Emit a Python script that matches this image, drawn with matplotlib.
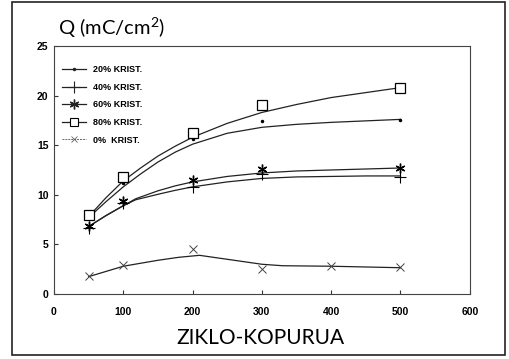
import matplotlib
matplotlib.use("Agg")
import matplotlib.pyplot as plt
from matplotlib.lines import Line2D
from matplotlib.patches import Rectangle

plt.rcParams["mathtext.fontset"] = "custom"
plt.rcParams["mathtext.rm"] = "Lato"

# measured points
cycles = [50, 100, 200, 300, 500]
q20 = [7.8, 11.2, 15.6, 17.4, 17.5]
q40 = [6.7, 9.2, 10.8, 12.1, 11.8]
q60 = [6.9, 9.4, 11.5, 12.6, 12.7]
q80 = [8.0, 11.8, 16.2, 19.0, 20.8]
cycles0 = [50, 100, 200, 300, 400, 500]
q0 = [1.8, 2.9, 4.5, 2.5, 2.8, 2.7]

# fitted curves as drawn on the figure
fit_x = [50, 75, 100, 125, 150, 175, 200, 250, 300, 350, 400, 450, 500]
fit20 = [7.7, 9.3, 10.8, 12.1, 13.3, 14.3, 15.1, 16.2, 16.8, 17.1, 17.3, 17.45, 17.6]
fit80 = [7.8, 9.7, 11.4, 12.7, 13.9, 14.9, 15.8, 17.2, 18.3, 19.1, 19.8, 20.3, 20.8]
fit_x2 = [50, 75, 100, 118, 150, 175, 200, 250, 300, 350, 400, 450, 500]
fit40 = [6.8, 7.9, 8.9, 9.5, 10.05, 10.45, 10.8, 11.3, 11.65, 11.8, 11.85, 11.9, 11.9]
fit60 = [6.8, 7.9, 8.9, 9.6, 10.4, 10.9, 11.3, 11.85, 12.2, 12.4, 12.5, 12.6, 12.7]
fit_x0 = [50, 100, 150, 180, 210, 250, 300, 330, 400, 500]
fit0 = [1.75, 2.8, 3.4, 3.7, 3.9, 3.5, 3.0, 2.85, 2.8, 2.65]

labels = ["20% KRIST.", "40% KRIST.", "60% KRIST.", "80% KRIST.", "0%  KRIST."]

fig = plt.figure(figsize=(5.09, 3.59), dpi=100)
ax = fig.add_axes([0.106, 0.181, 0.817, 0.691])

lc = "#222222"
ax.plot(fit_x, fit20, color=lc, lw=0.9)
ax.plot(fit_x, fit80, color=lc, lw=0.9)
ax.plot(fit_x2, fit40, color=lc, lw=0.9)
ax.plot(fit_x2, fit60, color=lc, lw=0.9)
ax.plot(fit_x0, fit0, color=lc, lw=0.9)

ax.plot(cycles, q20, ".", color="black", ms=3)
ax.plot(cycles, q40, "+", color="black", ms=8, mew=0.8)
ax.plot(cycles, q60, marker=(6, 2, 0), ls="none", color="black", ms=7, mew=1.0)
ax.plot(cycles, q80, "s", mfc="white", mec="black", ms=7, mew=0.9)
ax.plot(cycles0, q0, "x", color="#444444", ms=6, mew=0.7)

handles = [
    Line2D([], [], color=lc, lw=0.9, marker=".", ms=3),
    Line2D([], [], color=lc, lw=0.9, marker="+", ms=8, mew=0.8),
    Line2D([], [], color=lc, lw=0.9, marker=(6, 2, 0), ms=7, mew=1.0),
    Line2D([], [], color=lc, lw=0.9, marker="s", mfc="white", mec="black", ms=6, mew=0.8),
    Line2D([], [], color="#666666", lw=0.7, ls=(0, (2, 1)), marker="x", ms=5, mew=0.6),
]
ax.legend(handles, labels, loc="upper left", bbox_to_anchor=(0.0, 0.955), frameon=False,
          handlelength=2.6, handletextpad=0.8, labelspacing=0.95,
          prop={"family": "Liberation Sans", "weight": "bold", "size": 6.5})

ax.set_xlim(0, 600)
ax.set_ylim(0, 25)
ax.set_xticks([0, 100, 200, 300, 400, 500, 600])
ax.set_yticks([0, 5, 10, 15, 20, 25])
ax.tick_params(direction="in", length=3, width=0.8, color="#333333")
ax.tick_params(axis="x", pad=9)
ax.tick_params(axis="y", pad=4)
for lab in ax.get_xticklabels() + ax.get_yticklabels():
    lab.set_fontfamily("Liberation Sans")
    lab.set_fontweight("bold")
    lab.set_fontsize(7.5)
for s in ax.spines.values():
    s.set_linewidth(0.8)
    s.set_color("#444444")

fig.text(0.114, 0.922, r"Q (mC/cm$^{\mathrm{2}}$)", fontsize=14.5, family="Lato", ha="left", va="center")
fig.text(0.512, 0.058, "ZIKLO-KOPURUA", fontsize=15, family="Lato", ha="center", va="center")

fig.patches.append(Rectangle((12 / 509, 4 / 359), 493 / 509, 353 / 359, transform=fig.transFigure,
                             fill=False, edgecolor="#222222", lw=1.2))

fig.savefig("out.png", dpi=100)
